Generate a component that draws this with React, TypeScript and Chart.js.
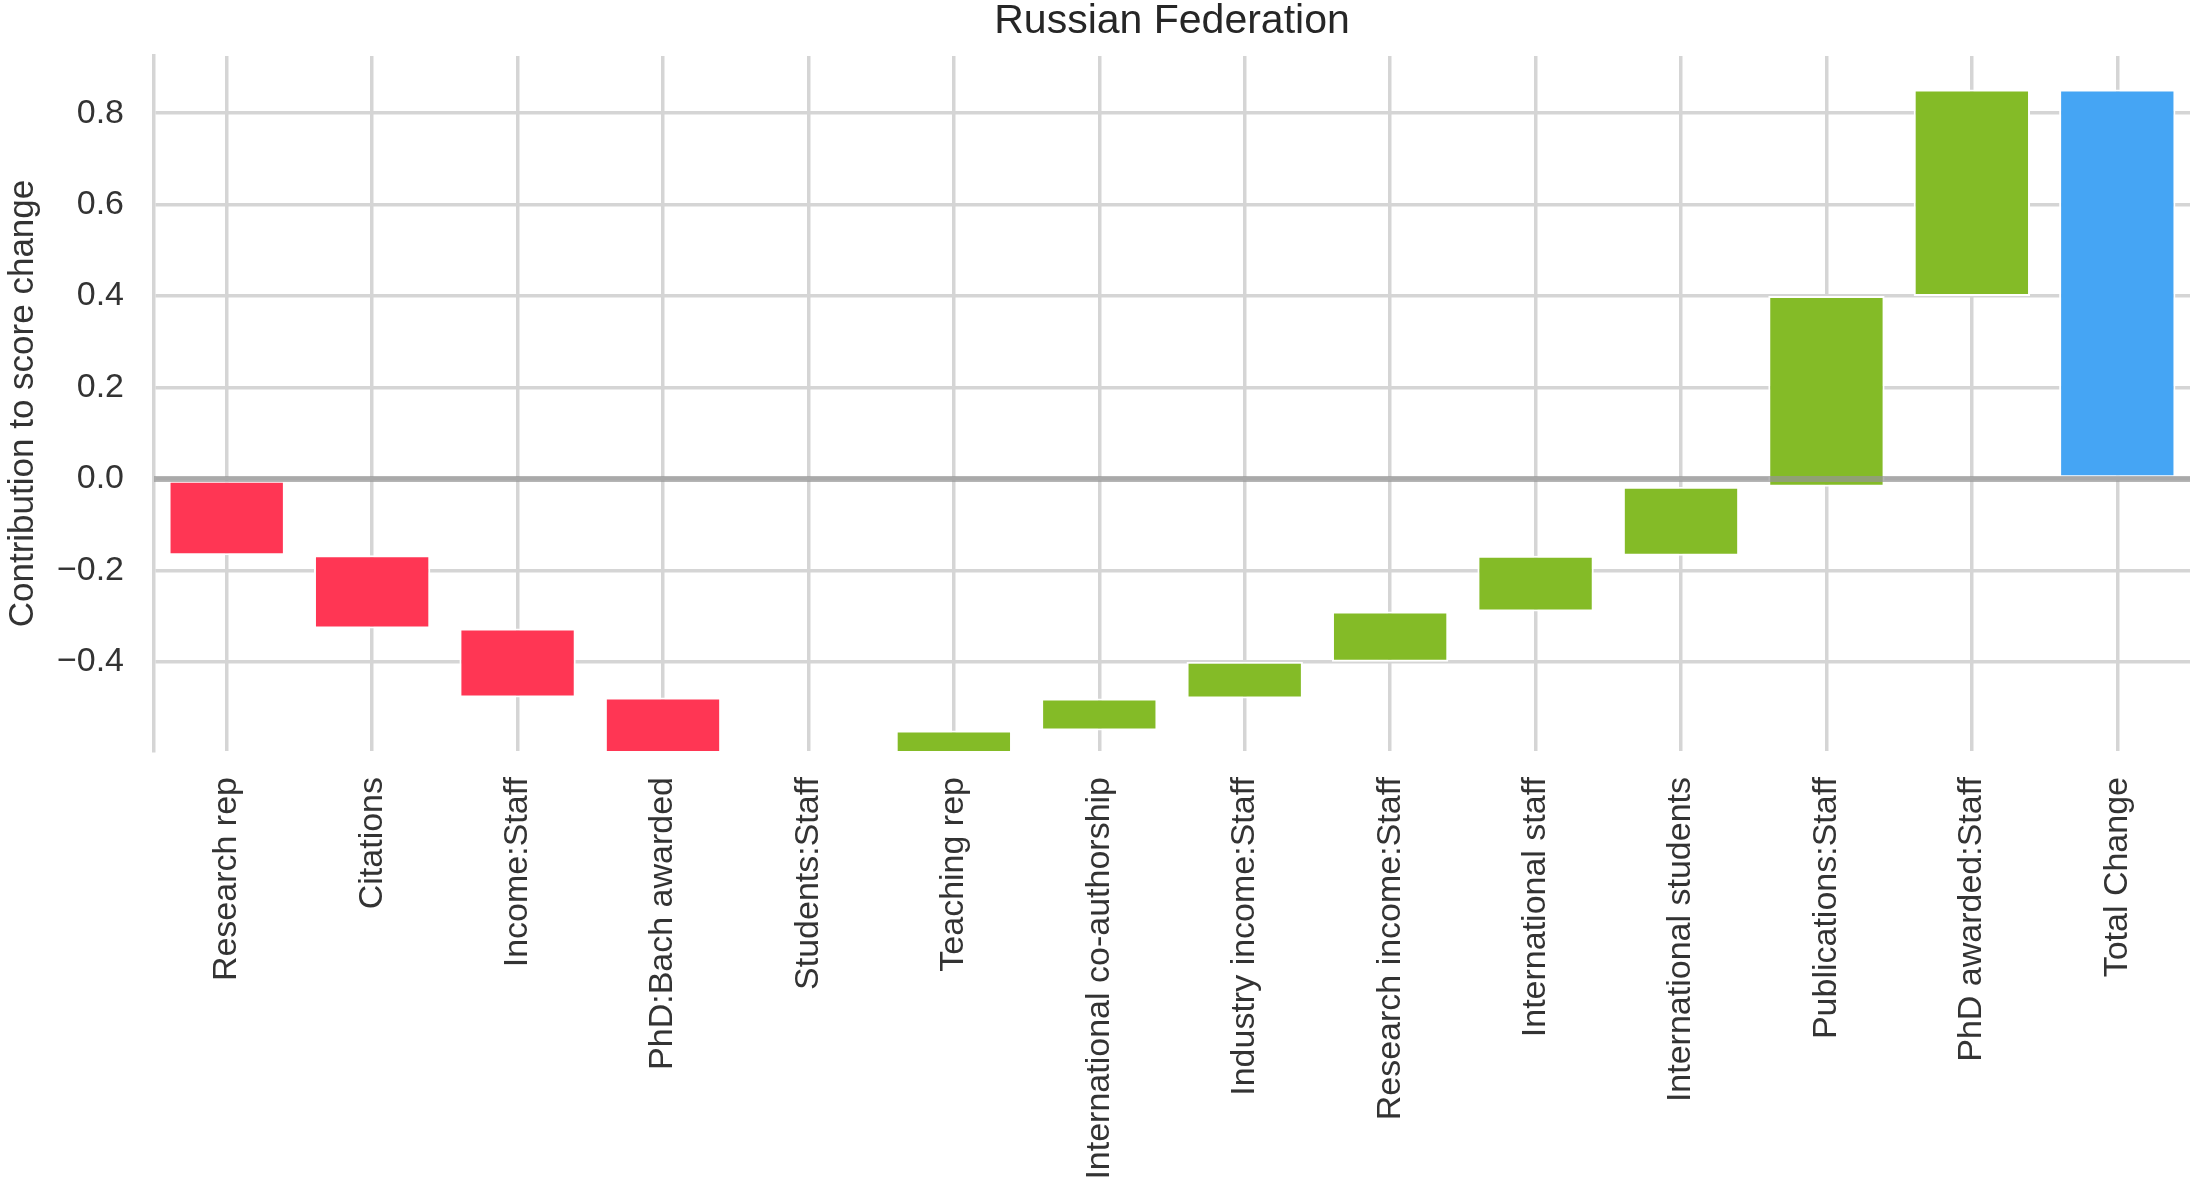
import React, { useEffect, useRef } from 'react';
import { Chart, registerables } from 'chart.js';

Chart.register(...registerables);

const title = 'Russian Federation';
const yAxisTitle = 'Contribution to score change';

const categories = [
  'Research rep',
  'Citations',
  'Income:Staff',
  'PhD:Bach awarded',
  'Students:Staff',
  'Teaching rep',
  'International co-authorship',
  'Industry income:Staff',
  'Research income:Staff',
  'International staff',
  'International students',
  'Publications:Staff',
  'PhD awarded:Staff',
];
const totalLabel = 'Total Change';

// contribution of each factor
const contributions = [
  -0.167, -0.16, -0.151, -0.16, -0.04, 0.128, 0.07, 0.08, 0.11, 0.122, 0.151, 0.417, 0.452,
];

const negColor = '#ff3654';
const posColor = '#84bb27';
const totalColor = '#45a5f4';

const zeroLine = {
  id: 'zeroLine',
  afterDatasetsDraw(chart: any) {
    const ctx = chart.ctx;
    const y = chart.scales.y.getPixelForValue(0);
    const { left, right } = chart.chartArea;
    ctx.save();
    ctx.strokeStyle = 'rgba(150,150,150,0.7)';
    ctx.lineWidth = 6;
    ctx.beginPath();
    ctx.moveTo(left, y);
    ctx.lineTo(right, y);
    ctx.stroke();
    ctx.restore();
  },
};

export default function App() {
  const ref = useRef<HTMLCanvasElement | null>(null);

  useEffect(() => {
    if (!ref.current) return;
    let run = 0;
    const floating: number[][] = contributions.map((c) => {
      const s = run;
      run += c;
      return [s, run];
    });
    floating.push([0, run]);
    const colors = contributions.map((c) => (c < 0 ? negColor : posColor));
    colors.push(totalColor);
    const labels = [...categories, totalLabel];

    Chart.defaults.font.family = "'Liberation Sans', Arial, sans-serif";

    const chart = new Chart(ref.current, {
      type: 'bar',
      data: {
        labels,
        datasets: [
          {
            data: floating as any,
            backgroundColor: colors,
            borderColor: '#ffffff',
            borderWidth: 2,
            borderSkipped: false,
            categoryPercentage: 1,
            barPercentage: 0.8,
          },
        ],
      },
      options: {
        responsive: false,
        animation: false,
        layout: { padding: 0 },
        plugins: {
          legend: { display: false },
          tooltip: { enabled: false },
          title: {
            display: true,
            text: title,
            fullSize: false,
            color: '#262626',
            font: { size: 41, weight: 'normal', lineHeight: 1.0 },
            padding: { top: 1, bottom: 14 },
          },
        },
        scales: {
          x: {
            offset: true,
            grid: { offset: false, color: '#d5d5d5', lineWidth: 3.5, drawTicks: false },
            border: { display: false },
            ticks: {
              minRotation: 90,
              maxRotation: 90,
              autoSkip: false,
              padding: 26,
              color: '#333333',
              font: { size: 34 },
            },
            afterFit: (s: any) => {
              s.height = 445;
            },
          },
          y: {
            min: -0.595,
            max: 0.925,
            grid: { color: '#d5d5d5', lineWidth: 3.5, drawTicks: false },
            border: { display: true, color: '#d5d5d5', width: 3.5 },
            ticks: {
              stepSize: 0.2,
              includeBounds: false,
              padding: 30,
              color: '#333333',
              font: { size: 34 },
              callback: (v: any) => {
                const n = Number(v);
                if (Math.abs(n) < 1e-9) return '0.0';
                return (n < 0 ? '\u2212' : '') + Math.abs(n).toFixed(1);
              },
            },
            title: {
              display: true,
              text: yAxisTitle,
              color: '#333333',
              font: { size: 35 },
              padding: { top: 2, bottom: 0 },
            },
            afterFit: (s: any) => {
              s.width = 154;
            },
          },
        },
      },
      plugins: [zeroLine],
    });
    return () => chart.destroy();
  }, []);

  return (
    <div style={{ position: 'fixed', left: 0, top: 0, width: 2190, height: 1196, background: '#fff' }}>
      <canvas ref={ref} width={2190} height={1196} style={{ display: 'block' }} />
    </div>
  );
}
